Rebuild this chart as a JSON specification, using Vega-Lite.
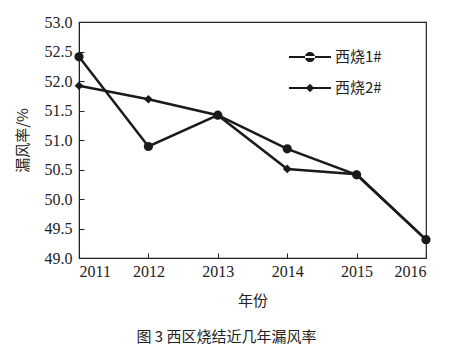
{
  "$schema": "https://vega.github.io/schema/vega-lite/v6.json",
  "width": 347,
  "height": 236,
  "autosize": {"type": "none"},
  "padding": {"left": 79, "top": 22, "right": 23, "bottom": 101},
  "background": "white",
  "config": {
    "view": {"stroke": "#222", "strokeWidth": 1.2},
    "axis": {
      "grid": false,
      "domainColor": "#222",
      "tickColor": "#222",
      "labelColor": "#222",
      "titleColor": "#222",
      "labelFont": "Liberation Serif",
      "labelFontSize": 16,
      "titleFont": "Noto Sans CJK SC",
      "titleFontSize": 15,
      "titleFontWeight": "normal"
    }
  },
  "title": {
    "text": "图 3  西区烧结近几年漏风率",
    "orient": "bottom",
    "font": "Noto Sans CJK SC",
    "fontSize": 15,
    "fontWeight": "normal",
    "color": "#222",
    "offset": 22,
    "dx": -26
  },
  "data": {
    "values": [
      {"year": 2011, "series": "西烧1#", "value": 52.41},
      {"year": 2012, "series": "西烧1#", "value": 50.89},
      {"year": 2013, "series": "西烧1#", "value": 51.42},
      {"year": 2014, "series": "西烧1#", "value": 50.85},
      {"year": 2015, "series": "西烧1#", "value": 50.41},
      {"year": 2016, "series": "西烧1#", "value": 49.31},
      {"year": 2011, "series": "西烧2#", "value": 51.92},
      {"year": 2012, "series": "西烧2#", "value": 51.69},
      {"year": 2013, "series": "西烧2#", "value": 51.42},
      {"year": 2014, "series": "西烧2#", "value": 50.51},
      {"year": 2015, "series": "西烧2#", "value": 50.42},
      {"year": 2016, "series": "西烧2#", "value": 49.31}
    ]
  },
  "encoding": {
    "x": {
      "field": "year",
      "type": "quantitative",
      "scale": {"domain": [2011, 2016], "nice": false, "zero": false},
      "axis": {
        "title": "年份",
        "format": "d",
        "values": [2011, 2012, 2013, 2014, 2015, 2016],
        "tickSize": -5,
        "labelPadding": 10,
        "titlePadding": 14
      }
    },
    "y": {
      "field": "value",
      "type": "quantitative",
      "scale": {"domain": [49, 53], "nice": false, "zero": false},
      "axis": {
        "title": "漏风率/%",
        "format": ".1f",
        "values": [49, 49.5, 50, 50.5, 51, 51.5, 52, 52.5, 53],
        "tickSize": -5,
        "labelPadding": 12,
        "titlePadding": 14
      }
    }
  },
  "layer": [
    {
      "mark": {"type": "line", "color": "#1a1a1a", "strokeWidth": 2.5},
      "encoding": {"detail": {"field": "series"}}
    },
    {
      "transform": [{"filter": "datum.series === '西烧1#'"}],
      "mark": {"type": "point", "shape": "circle", "filled": true, "color": "#1a1a1a", "opacity": 1, "size": 85}
    },
    {
      "transform": [{"filter": "datum.series === '西烧2#'"}],
      "mark": {"type": "point", "shape": "diamond", "filled": true, "color": "#1a1a1a", "opacity": 1, "size": 75}
    },
    {
      "mark": {"type": "point", "filled": true, "color": "#1a1a1a", "opacity": 1, "size": 0},
      "encoding": {
        "shape": {
          "field": "series",
          "type": "nominal",
          "scale": {
            "domain": ["西烧1#", "西烧2#"],
            "range": [
              "M-1,-0.05H1V0.05H-1ZM-0.24,0A0.24,0.24,0,1,0,0.24,0A0.24,0.24,0,1,0,-0.24,0Z",
              "M-1,-0.05H1V0.05H-1ZM0,-0.2L0.2,0L0,0.2L-0.2,0Z"
            ]
          },
          "legend": {
            "title": null,
            "orient": "none",
            "legendX": 209,
            "legendY": 13,
            "labelFont": "Noto Sans CJK SC",
            "labelFontSize": 15,
            "labelColor": "#222",
            "labelOffset": 3,
            "rowPadding": -27,
            "symbolSize": 1764,
            "symbolFillColor": "#1a1a1a",
            "symbolOpacity": 1
          }
        }
      }
    }
  ]
}
